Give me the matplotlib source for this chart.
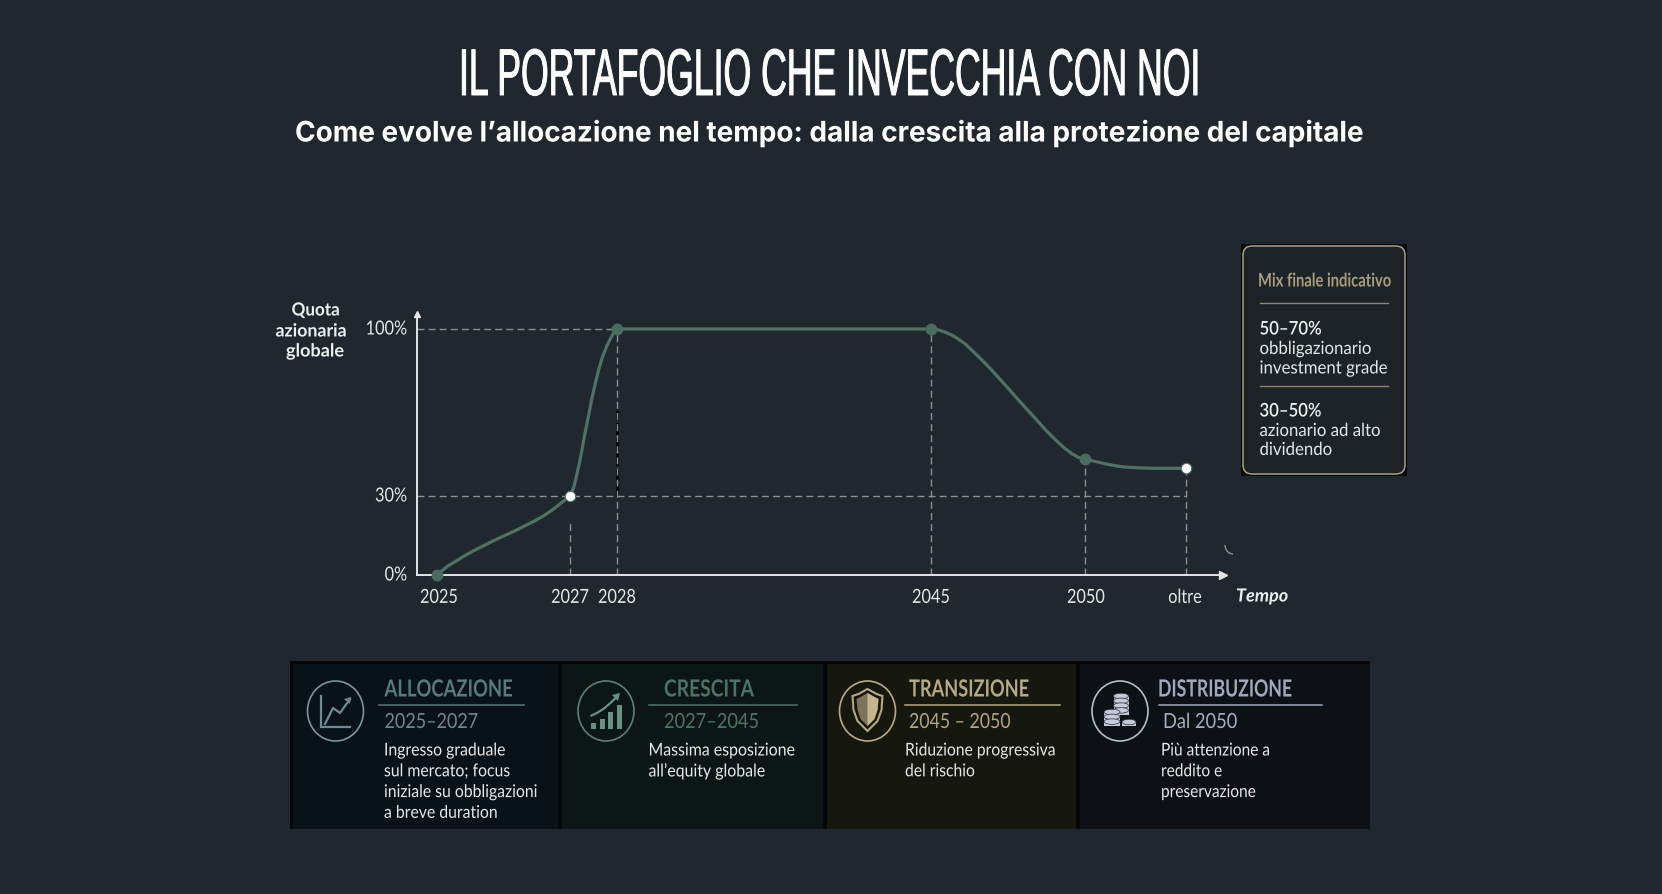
import numpy as np
import matplotlib
matplotlib.use("Agg")
import matplotlib.pyplot as plt
from matplotlib.patches import Rectangle, FancyBboxPatch, Ellipse, Polygon, Arc
from matplotlib.patheffects import AbstractPathEffect
from matplotlib.transforms import Affine2D

W, H = 1662, 894
BG = "#20272e"
BODY = "Lato"

TITLE = "IL PORTAFOGLIO CHE INVECCHIA CON NOI"
SUBTITLE = "Come evolve l’allocazione nel tempo: dalla crescita alla protezione del capitale"

# curve: year ("oltre" is placed at 2055) and equity share
years = [2025, 2025.075, 2025.15, 2025.25, 2025.4, 2025.55, 2025.7, 2025.85, 2026, 2026.15, 2026.3,
         2026.45, 2026.6, 2026.75, 2026.875, 2027,
         2027.085, 2027.135, 2027.199, 2027.255, 2027.305, 2027.362, 2027.418, 2027.475, 2027.539,
         2027.61, 2027.695, 2027.78, 2027.865, 2027.936, 2028,
         2045, 2045.238, 2045.455, 2045.671, 2045.887, 2046.104, 2046.32, 2046.537, 2046.753, 2046.97,
         2047.186, 2047.403, 2047.619, 2047.835, 2048.052, 2048.268, 2048.485, 2048.701, 2048.918,
         2049.134, 2049.351, 2049.567, 2049.784, 2050,
         2050.5, 2051, 2051.49, 2051.98, 2052.48, 2052.97, 2053.47, 2055]
share = [0, 1.6, 3.2, 4.7, 7.1, 9.2, 11.1, 13, 14.8, 16.5, 18.4,
         20.3, 22.4, 25, 27.5, 30,
         33.9, 38.1, 43.7, 49.3, 54.9, 60.5, 66.1, 71.7, 77.3,
         82.9, 88.5, 92.7, 96.2, 98.6, 100,
         100, 99.6, 98.7, 97.5, 95.8, 93.8, 91.2, 88.5, 85.7, 82.8,
         79.7, 76.6, 73.5, 70.3, 67.2, 64.2, 61.1, 58, 55.1,
         52.4, 49.9, 47.8, 46.2, 45.4,
         44.5, 43.5, 42.7, 42.1, 41.9, 41.7, 41.6, 41.6]
green_x = [2025, 2028, 2045, 2050]
green_y = [0, 100, 100, 45.4]
white_x = [2027, 2055]
white_y = [30, 41.6]
xtick_vals = [2025, 2027, 2028, 2045, 2050, 2055]
xtick_text = ["2025", "2027", "2028", "2045", "2050", "oltre"]
ytick_vals = [0, 30, 100]
ytick_text = ["0%", "30%", "100%"]

phase_names = ["ALLOCAZIONE", "CRESCITA", "TRANSIZIONE", "DISTRIBUZIONE"]
phase_dates = ["2025–2027", "2027–2045", "2045 – 2050", "Dal 2050"]
phase_text = ["Ingresso graduale\nsul mercato; focus\niniziale su obbligazioni\na breve duration",
              "Massima esposizione\nall’equity globale",
              "Riduzione progressiva\ndel rischio",
              "Più attenzione a\nreddito e\npreservazione"]

plt.rcParams["font.family"] = [BODY, "DejaVu Sans"]
fig = plt.figure(figsize=(W / 100, H / 100), dpi=100, facecolor=BG)
renderer = fig.canvas.get_renderer()


class Squeeze(AbstractPathEffect):
    """Draw a text narrower around its own anchor (no condensed font is installed)."""
    def __init__(self, text, sx, dx=0, dy=0, stroke=0):
        super().__init__()
        self.text, self.sx, self.dx, self.dy, self.stroke = text, sx, dx, dy, stroke

    def draw_path(self, rend, gc, tpath, affine, rgbFace=None):
        x0, _ = self.text.get_transform().transform(self.text.get_position())
        t = affine + Affine2D().translate(-x0, 0).scale(self.sx, 1).translate(x0 + self.dx, self.dy)
        g = rend.new_gc()
        g.copy_properties(gc)
        if self.stroke:
            g.set_linewidth(self.stroke)
            g.set_foreground(rgbFace)
        rend.draw_path(g, tpath, t, rgbFace)
        g.restore()


def natural(t):
    return t.get_window_extent(renderer).width


def squeeze(t, sx, **kw):
    t.set_path_effects([Squeeze(t, sx, **kw)])
    return t


def fit(t, width, **kw):
    return squeeze(t, width / natural(t), **kw)


bg = fig.add_axes([0, 0, 1, 1], zorder=0)
bg.set_xlim(0, W); bg.set_ylim(H, 0); bg.axis("off")

# titles
fit(bg.text(829.5, 95, TITLE, color="white", fontsize=47.5, family="Liberation Sans",
            ha="center", va="baseline"), 741, stroke=0.7)
fit(bg.text(829.5, 133.5, SUBTITLE, color="white", fontsize=20.4, fontweight="bold", family="Inter",
            ha="center", va="center"), 1069)

# chart axes
AX_L, AX_R, AX_T, AX_B = 417, 1223, 314, 575
ax = fig.add_axes([AX_L / W, 1 - AX_B / H, (AX_R - AX_L) / W, (AX_B - AX_T) / H], zorder=2)
ax.patch.set_alpha(0)
xk_val = [2024.7, 2025, 2027, 2028, 2045, 2050, 2055, 2056.2]
xk_pos = [417, 437, 570, 617, 931, 1085, 1186, 1223]
yk_val = [0, 30, 100, 108]
yk_pos = [0, 79, 246, 261]
ax.set_xscale("function", functions=(lambda v: np.interp(v, xk_val, xk_pos), lambda p: np.interp(p, xk_pos, xk_val)))
ax.set_yscale("function", functions=(lambda v: np.interp(v, yk_val, yk_pos), lambda p: np.interp(p, yk_pos, yk_val)))
ax.set_xlim(2024.7, 2056.2)
ax.set_ylim(0, 108)

for s in ("top", "right"):
    ax.spines[s].set_visible(False)
for s in ("left", "bottom"):
    ax.spines[s].set_color("#e4e6e6")
    ax.spines[s].set_linewidth(1.4)
ax.plot(1, 0, ">", color="#e4e6e6", ms=5.5, transform=ax.transAxes, clip_on=False)
ax.plot(0, 1, "^", color="#e4e6e6", ms=5, transform=ax.transAxes, clip_on=False)

ax.set_xticks(xtick_vals, xtick_text)
ax.set_yticks(ytick_vals, ytick_text)
ax.tick_params(axis="x", length=0, pad=10, labelsize=14, labelcolor="#e6e8e8")
ax.tick_params(axis="y", length=0, pad=7, labelsize=14, labelcolor="#e6e8e8")
sx_tick = 38 / natural(ax.get_xticklabels()[0])
for lab, shift in zip(ax.get_xticklabels(), [2, 0, 0, 0, 1, -1]):
    squeeze(lab, sx_tick, dx=shift)
for lab in ax.get_yticklabels():
    squeeze(lab, sx_tick, dy=1.5)

DASH = (0, (5, 3))
GRID = "#8b9093"
ax.plot([2024.7, 2028], [100, 100], color=GRID, lw=1, ls=DASH, zorder=1)
ax.plot([2024.7, 2055], [30, 30], color=GRID, lw=1, ls=DASH, zorder=1)
ax.plot([2028, 2028], [30, 66], color="#050607", lw=2.2, ls=(0, (4, 1)), zorder=0.9)
ax.plot([2027, 2027], [0, 21], color=GRID, lw=1, ls=DASH, zorder=1)
for xv, yv in zip([2028, 2045, 2050, 2055], [100, 100, 45.4, 41.6]):
    ax.plot([xv, xv], [0, yv], color=GRID, lw=1, ls=DASH, zorder=1)

ax.plot(years, share, color="#4f7265", lw=2.3, solid_joinstyle="round", zorder=3, clip_on=False)
ax.plot(green_x, green_y, "o", color="#4a6c60", ms=7.5, zorder=4, clip_on=False)
ax.plot(white_x, white_y, "o", mfc="white", mec="#4f7265", mew=0.8, ms=7.5, zorder=4, clip_on=False)

for label, cx, cy, wd in [("Quota", 315.6, 310, 48), ("azionaria", 311, 331, 71), ("globale", 315, 351, 58)]:
    fit(bg.text(cx, cy, label, color="#eef0f0", fontsize=13, fontweight="bold", ha="center", va="center"), wd)
fit(bg.text(1236, 596, "Tempo", color="#eef0f0", fontsize=13, fontweight="bold", style="italic",
            ha="left", va="center"), 52)
bg.add_patch(Arc((1233, 545), 16, 18, theta1=90, theta2=180, color="#8a8f93", lw=1))

# final mix card
bg.add_patch(Rectangle((1241, 244), 166, 232, fc="#040506", ec="none", zorder=1))
bg.add_patch(FancyBboxPatch((1249, 252), 150, 216, boxstyle="round,pad=6,rounding_size=9",
                            fc="#1d2327", ec="#a9a084", lw=1.1, zorder=1.5))
fit(bg.text(1258, 281, "Mix finale indicativo", color="#a89d7e", fontsize=13.5, fontweight="bold",
            va="center", zorder=3), 133)
bg.plot([1259.5, 1388], [303, 303], color="#8d8670", lw=1, zorder=3)
bg.plot([1259.5, 1388], [386, 386], color="#8d8670", lw=1, zorder=3)
card_big = [("50–70%", 329), ("30–50%", 411)]
card_small = [("obbligazionario", 349), ("investment grade", 368.5), ("azionario ad alto", 431), ("dividendo", 450)]
for s, y in card_big:
    fit(bg.text(1259.5, y, s, color="#f0f1f1", fontsize=13.5, fontweight="semibold", va="center", zorder=3), 62)
for s, y in card_small:
    t = bg.text(1259.5, y, s, color="#e6e8e8", fontsize=13, va="center", zorder=3)
    squeeze(t, 0.93)

# phase strip
bg.add_patch(Rectangle((290, 661), 1080, 168, fc="#05070a", ec="none"))
panels = [(293, 558, "#0a1219"), (562, 823, "#0d1617"), (827, 1076, "#16170f"), (1080, 1370, "#0d1015")]
cols = ["#587a7d", "#4d7266", "#b5a884", "#a3a8bb"]
date_cols = ["#6d888c", "#4f7367", "#b1a583", "#a9adbf"]
circ_cols = ["#7d959b", "#5d8073", "#b8ab87", "#b8bcc9"]
name_x = [384.5, 664, 909, 1158]
name_w = [128, 90, 120, 134]
date_x = [384.5, 664, 909, 1163]
date_w = [94, 95.4, 102, 74.6]
body_x = [384, 648.5, 905, 1161]
body_w = [154, 147, 151, 109]
body_long = [2, 0, 0, 0]
rule = [(379, 524), (649, 797), (905, 1060), (1158.5, 1322)]
circ = [335.5, 606, 867.5, 1120]
for i, (x0, x1, c) in enumerate(panels):
    bg.add_patch(Rectangle((x0, 664), x1 - x0, 165, fc=c, ec="none"))
    bg.add_patch(Ellipse((circ[i], 711), 56, 60, fc="none", ec=circ_cols[i], lw=1.2, zorder=3))
    fit(bg.text(name_x[i], 689, phase_names[i], color=cols[i], fontsize=17, fontweight="bold",
                va="center", zorder=3), name_w[i])
    bg.plot(rule[i], [704.5, 704.5], color=cols[i], lw=1.1, zorder=3)
    fit(bg.text(date_x[i], 722, phase_dates[i], color=date_cols[i], fontsize=15, va="center", zorder=3), date_w[i])
    lines = phase_text[i].split("\n")
    texts = [bg.text(body_x[i], 750.5 + k * 20.8, line, color="#e6e8e8", fontsize=12.7, va="center", zorder=3)
             for k, line in enumerate(lines)]
    sx = body_w[i] / natural(texts[body_long[i]])
    for t in texts:
        squeeze(t, sx)

# icon 1: line chart
c = "#6f8b92"
bg.plot([321, 321, 350], [696, 727, 727], color=c, lw=1.6, zorder=3, solid_joinstyle="miter")
bg.plot([325, 333, 340, 350], [724, 708, 713, 699], color=c, lw=1.6, zorder=3)
bg.add_patch(Polygon([[351, 697], [344, 699], [350, 704]], fc=c, ec="none", zorder=3))
# icon 2: bars and arrow
c = "#6a9082"
for bx, top in zip([593.5, 602, 610.5, 619.5], [722.5, 718.5, 711.5, 705]):
    bg.add_patch(Rectangle((bx - 2.5, top), 5.2, 728.5 - top, fc=c, ec="none", zorder=3))
tx = np.array([591.5, 597, 604, 611, 617])
ty = np.array([715.5, 713, 708.5, 702.5, 696.5])
bg.plot(tx, ty, color=c, lw=1.6, zorder=3)
bg.add_patch(Polygon([[620, 693], [612, 695], [618, 701]], fc=c, ec="none", zorder=3))
# icon 3: shield
sx0 = 867.5
outline = [(sx0, 689), (sx0 + 9, 694), (sx0 + 15, 696), (sx0 + 14, 710), (sx0 + 10, 721), (sx0, 731),
           (sx0 - 10, 721), (sx0 - 14, 710), (sx0 - 15, 696), (sx0 - 9, 694)]
bg.add_patch(Polygon(outline, fc="none", ec=cols[2], lw=1.5, zorder=3))
inner = [(sx0, 693), (sx0 + 7, 697), (sx0 + 11, 699), (sx0 + 10, 710), (sx0 + 7, 719), (sx0, 726),
         (sx0 - 7, 719), (sx0 - 10, 710), (sx0 - 11, 699), (sx0 - 7, 697)]
bg.add_patch(Polygon(inner, fc="#7e7458", ec="none", zorder=3))
bg.add_patch(Polygon(inner[:6], fc="#c4b78f", ec="none", zorder=3.1))
# icon 4: coins
c = "#c6c9d8"
for cx, y0, y1, w in [(1121, 696, 715, 15), (1112, 712, 726, 16), (1129, 722, 726, 14)]:
    bg.add_patch(Rectangle((cx - w / 2, y0), w, y1 - y0, fc=c, ec="none", zorder=3))
    for yy in np.arange(y0, y1 + 0.1, 4.8):
        bg.add_patch(Ellipse((cx, yy), w, 5.5, fc=c, ec="#2a2d35", lw=0.5, zorder=3.01))

fig.savefig("out.png", dpi=100, facecolor=BG)
